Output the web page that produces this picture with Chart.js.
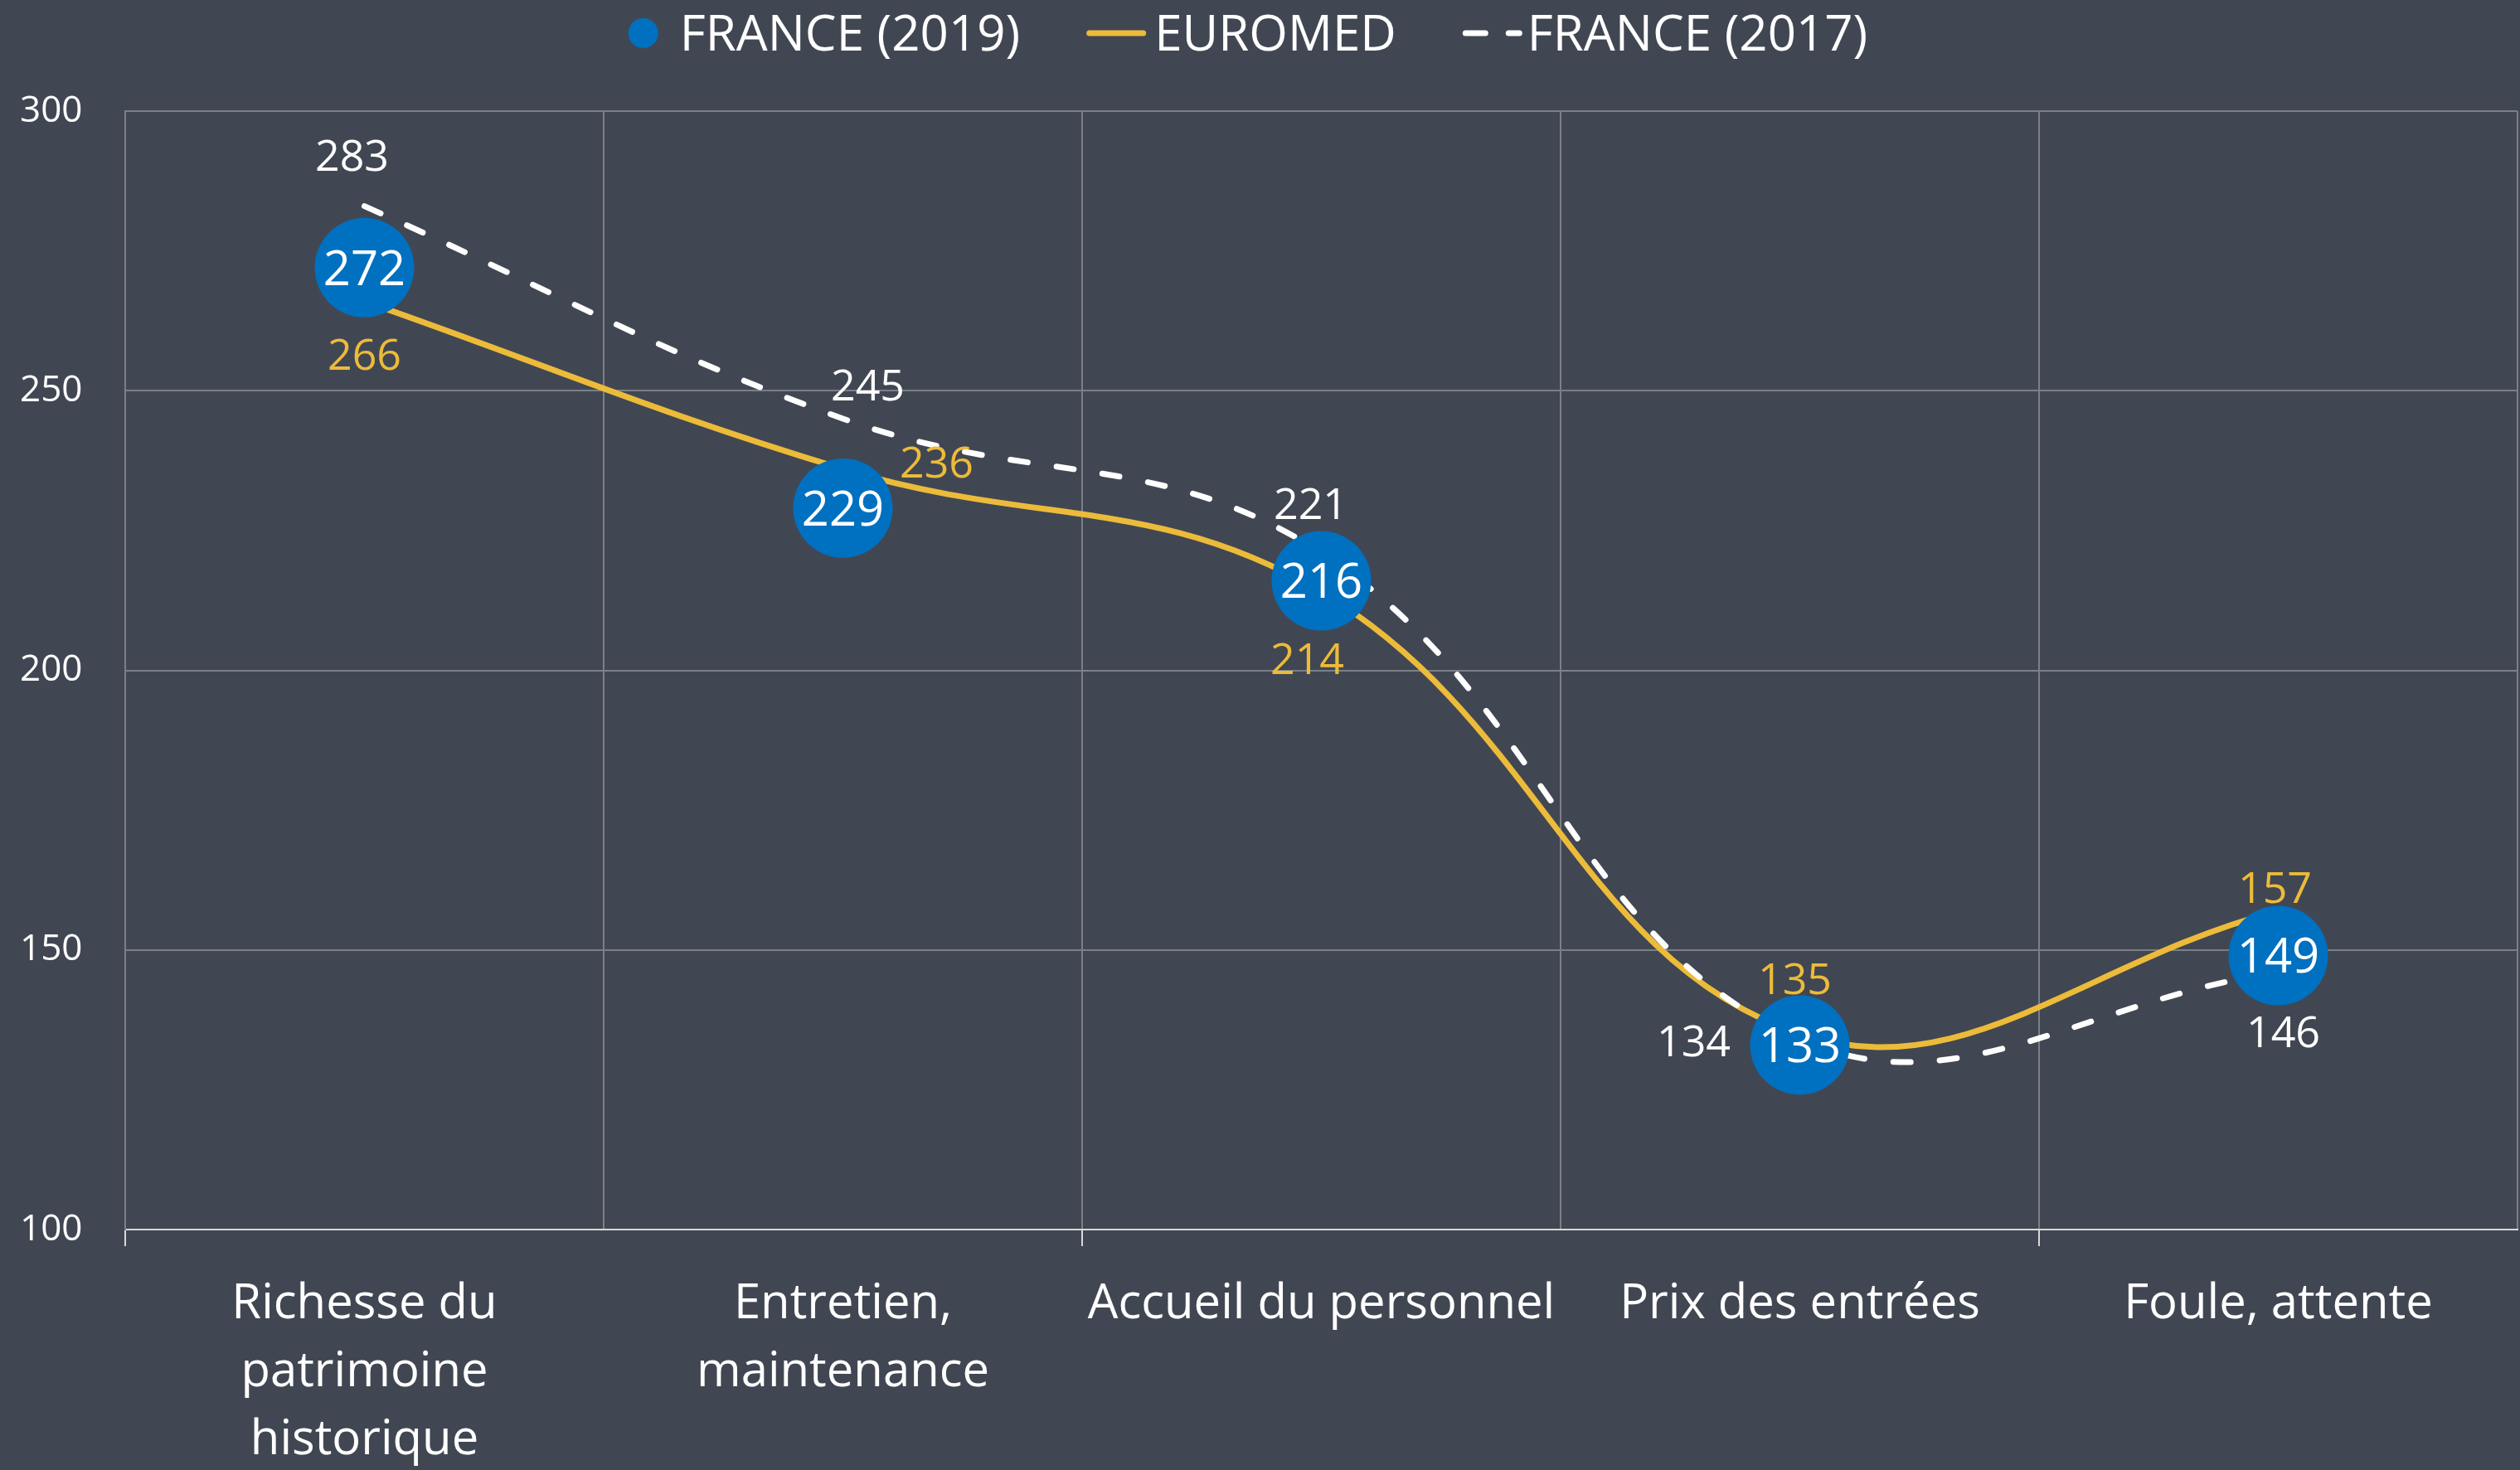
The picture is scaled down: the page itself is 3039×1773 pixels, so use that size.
<!DOCTYPE html>
<html lang="fr">
<head>
<meta charset="utf-8">
<title>Satisfaction des visiteurs</title>
<script src="https://cdn.jsdelivr.net/npm/chart.js@4.4.1/dist/chart.umd.min.js"></script>
<style>
  html, body { margin: 0; padding: 0; background: #414752; }
  canvas { display: block; }
</style>
</head>
<body>
<canvas id="chart" width="3039" height="1773"></canvas>
<script>
// values
const categories = [
    ['Richesse du', 'patrimoine', 'historique'],
    ['Entretien,', 'maintenance'],
    'Accueil du personnel',
    'Prix des entrées',
    'Foule, attente',
];
const france2019 = [272, 229, 216, 133, 149];
const euromed = [266, 236, 214, 135, 157];
const france2017 = [283, 245, 221, 134, 146];
const yTicks = [100, 150, 200, 250, 300];

// where each value label sits relative to its point (px)
const euromedLabelOffsets = [[0, 64], [113, -8], [-17, 80], [-6, -66], [-4, -28]];
const france2017LabelOffsets = [[-15, -61], [30, -41], [-13, -59], [-128, 2], [6, 72]];
const france2019LabelOffsets = [[0, 0], [0, 0], [0, 0], [0, 0], [0, 0]];

const BLUE = '#0070C0';
const GOLD = '#ECBB3A';
const WHITE = '#FFFFFF';
const GRID = '#7b7f87';
const AXIS = '#d9d9d9';
const FONT = "'Open Sans', 'Noto Sans', sans-serif";

const valueLabels = {
    id: 'valueLabels',
    afterDatasetsDraw(chart) {
        const ctx = chart.ctx;
        chart.data.datasets.forEach((ds, i) => {
            const meta = chart.getDatasetMeta(i);
            ctx.save();
            ctx.font = `${ds.labelSize}px ${FONT}`;
            ctx.fillStyle = ds.labelColor;
            ctx.textAlign = 'center';
            ctx.textBaseline = 'alphabetic';
            meta.data.forEach((pt, j) => {
                const [dx, dy] = ds.labelOffsets[j];
                // centre the digits (cap height ~0.714em) on the target point
                ctx.fillText(String(ds.data[j]), pt.x + dx, pt.y + dy + ds.labelSize * 0.357);
            });
            ctx.restore();
        });
    },
};

const topLegend = {
    id: 'topLegend',
    afterDraw(chart) {
        const ctx = chart.ctx;
        const size = 60;
        const y = 40;
        const itemGap = 80;
        ctx.save();
        ctx.font = `${size}px ${FONT}`;
        const items = chart.data.datasets.map((ds) => {
            const sym = ds.legendSymbol;
            const symW = sym === 'dot' ? 36 : 72;
            const gap = sym === 'dot' ? 26 : sym === 'line' ? 10 : 6;
            const textW = ctx.measureText(ds.label).width;
            return { ds, sym, symW, gap, textW, w: symW + gap + textW };
        });
        const total = items.reduce((s, it) => s + it.w, 0) + itemGap * (items.length - 1);
        let x = 1505 - total / 2;
        items.forEach((it) => {
            if (it.sym === 'dot') {
                ctx.fillStyle = it.ds.pointBackgroundColor;
                ctx.beginPath();
                ctx.arc(x + 18, y, 18, 0, Math.PI * 2);
                ctx.fill();
            } else {
                ctx.strokeStyle = it.ds.borderColor;
                ctx.lineWidth = 7;
                ctx.lineCap = 'round';
                ctx.setLineDash(it.sym === 'dash' ? [24, 28] : []);
                ctx.beginPath();
                ctx.moveTo(x + 3.5, y);
                ctx.lineTo(x + it.symW - 3.5, y);
                ctx.stroke();
                ctx.setLineDash([]);
            }
            ctx.fillStyle = WHITE;
            ctx.textAlign = 'left';
            ctx.textBaseline = 'alphabetic';
            ctx.fillText(it.ds.label, x + it.symW + it.gap, y + size * 0.357);
            x += it.w + itemGap;
        });
        ctx.restore();
    },
};

new Chart(document.getElementById('chart'), {
    type: 'line',
    data: {
        labels: categories,
        datasets: [
            {
                label: 'FRANCE (2019)',
                data: france2019,
                order: 0,
                showLine: false,
                pointRadius: 60,
                pointHoverRadius: 60,
                pointBackgroundColor: BLUE,
                pointBorderWidth: 0,
                labelOffsets: france2019LabelOffsets,
                labelColor: WHITE,
                labelSize: 58,
                legendSymbol: 'dot',
            },
            {
                label: 'EUROMED',
                data: euromed,
                order: 2,
                borderColor: GOLD,
                borderWidth: 7,
                tension: 0.4,
                pointRadius: 0,
                fill: false,
                labelOffsets: euromedLabelOffsets,
                labelColor: GOLD,
                labelSize: 52,
                legendSymbol: 'line',
            },
            {
                label: 'FRANCE (2017)',
                data: france2017,
                order: 1,
                borderColor: WHITE,
                borderWidth: 7,
                borderDash: [21, 35],
                borderCapStyle: 'round',
                tension: 0.4,
                pointRadius: 0,
                fill: false,
                labelOffsets: france2017LabelOffsets,
                labelColor: WHITE,
                labelSize: 52,
                legendSymbol: 'dash',
            },
        ],
    },
    options: {
        responsive: false,
        animation: false,
        devicePixelRatio: 1,
        events: [],
        layout: { autoPadding: false, padding: { top: 134, left: 24, right: 3, bottom: 0 } },
        plugins: {
            legend: { display: false },
            tooltip: { enabled: false },
        },
        scales: {
            x: {
                offset: true,
                grid: {
                    offset: true,
                    color: GRID,
                    lineWidth: 2,
                    tickLength: 20,
                    tickWidth: 2,
                    tickColor: (c) => (c.index % 2 === 0 ? AXIS : 'transparent'),
                },
                border: { color: AXIS, width: 2 },
                ticks: {
                    color: WHITE,
                    font: { family: FONT, size: 58, lineHeight: 1.41 },
                    padding: 30,
                    maxRotation: 0,
                    autoSkip: false,
                },
                afterFit(scale) {
                    scale.height = 290;
                    scale.paddingLeft = 0;
                    scale.paddingRight = 0;
                },
            },
            y: {
                min: yTicks[0],
                max: yTicks[yTicks.length - 1],
                ticks: {
                    stepSize: yTicks[1] - yTicks[0],
                    color: WHITE,
                    font: { family: FONT, size: 44 },
                    crossAlign: 'far',
                    padding: 0,
                },
                grid: { color: GRID, lineWidth: 2, drawTicks: false },
                border: { color: GRID, width: 2 },
                afterFit(scale) {
                    scale.width = 127;
                },
            },
        },
    },
    plugins: [valueLabels, topLegend],
});
</script>
</body>
</html>
